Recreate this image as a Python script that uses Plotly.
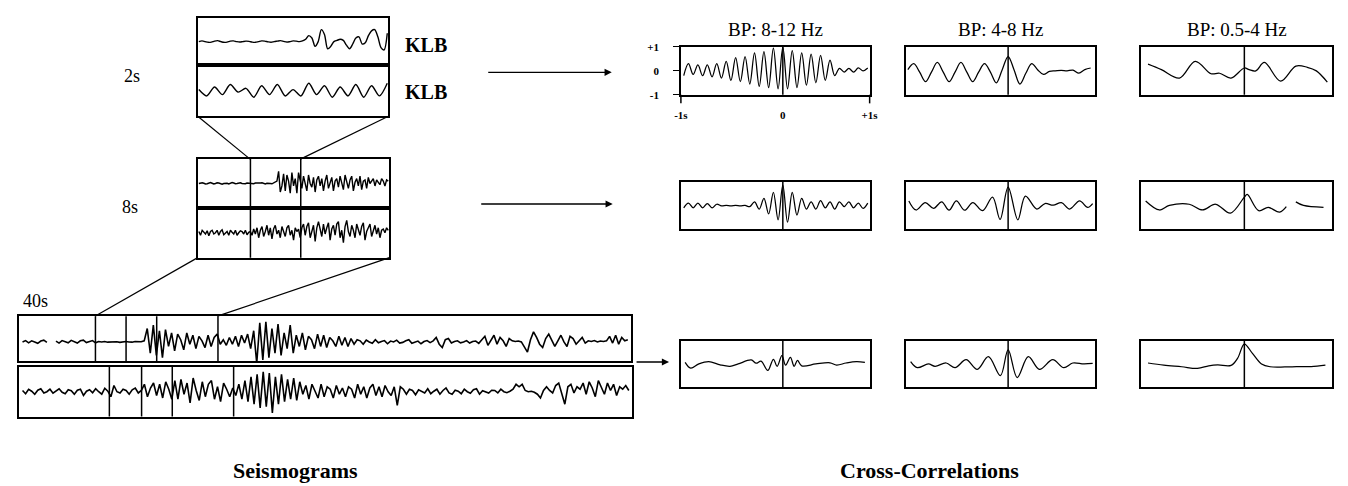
import numpy as np
import plotly.graph_objects as go

W, H = 1348, 486
FONT = "Liberation Serif"

# ---------------- data: seismogram traces (relative amplitude) ----------------
s2_top = [0, 0.03, 0.0, -0.03, -0.02, 0.02, 0.04, 0.0, -0.03, -0.02, 0.02, 0.03, 0.0, -0.02, 0.0, 0.02,
          0.01, -0.02, -0.03, 0.0, 0.03, 0.02, -0.01, -0.03, 0.0, 0.02, 0.04, 0.01, -0.02, 0.0, 0.03, 0.02, 0.0,
          0.03, 0.1, 0.25, 0.15, -0.2, 0.0, 0.5, 0.3, -0.3, -0.2, 0.0, 0.05, 0.1, 0.05, -0.15, -0.3, -0.1,
          0.15, 0.2, -0.1, -0.05, 0.25, 0.45, 0.5, 0.2, -0.25, -0.35, 0.35]
s2_bot = [0.05, -0.2, 0.15, -0.15, 0.25, -0.05, 0.1, -0.25, 0.2, -0.15, 0.25, -0.2, 0.05, -0.2, 0.3,
          -0.15, 0.2, -0.25, 0.15, -0.2, 0.25, -0.25, 0.2, -0.2, 0.3]

s8_top = [0, 0.02, 0.03, 0.01, -0.02, -0.01, 0.02, 0.04, 0.01, -0.02, 0, 0.03, 0.02, -0.01, -0.03, 0, 0.02,
          0.01, -0.02, 0.01, 0.04, 0.02, -0.01, 0, 0.02, 0.03, 0, -0.02, -0.01, 0.02, 0.01, 0, -0.03, -0.01,
          0.02, 0.01, 0, 0.02, 0.03, 0, -0.02, 0.01, 0.02, 0.0, -0.01, 0.02, 0.05, 0.1,
          0.5, -0.35, -0.1, 0.4, -0.3, 0.35, 0.1, -0.4, 0.45, -0.1, 0.2, -0.4, 0.45, 0.1, -0.2, 0.3, 0.05,
          -0.3, 0.35, 0.0, -0.15, 0.25, -0.35, 0.15, 0.3, -0.1, 0.2, -0.3, 0.1, 0.35, -0.2, 0.05, 0.25, -0.3,
          0.1, 0.2, -0.15, 0.3, -0.05, -0.25, 0.35, 0.1, -0.2, 0.15, 0.3, -0.3, 0.05, 0.2, -0.1, 0.3, -0.25,
          0.1, 0.15, -0.2, 0.25, 0.0, 0.1, 0.2, -0.1, 0.15, 0.05, -0.05, 0.2, 0.1, -0.1, 0.15, 0.1]
s8_bot = [0.05, -0.1, 0.1, 0.0, -0.05, 0.08, -0.12, 0.05, 0.1, -0.05, 0.0, 0.1, -0.1, 0.05, 0.12, -0.08, 0.0,
          0.05, -0.1, 0.1, 0.02, -0.05, 0.1, -0.1, 0.0, 0.08, 0.05, -0.05, 0.1, -0.08, 0.02, 0.05,
          -0.1, 0.15, -0.05, 0.2, -0.2, 0.1, 0.25, -0.15, 0.05, 0.3, -0.1, 0.2, -0.25, 0.15, 0.3, -0.05, 0.1,
          -0.2, 0.25, 0.05, -0.15, 0.2, 0.3, -0.1, 0.1, -0.3, 0.2, 0.05, 0.15, -0.2,
          0.2, 0.35, -0.1, 0.25, 0.4, -0.2, 0.1, 0.3, -0.35, 0.2, 0.45, 0.1, -0.15, 0.35, -0.05, 0.2, 0.4, -0.3,
          0.15, 0.3, -0.1, 0.35, 0.45, -0.2, 0.1, -0.4, 0.25, 0.5, 0.05, -0.15, 0.3, 0.1, -0.2, 0.35, 0.15,
          -0.1, 0.25, 0.4, -0.3, 0.05, 0.2, 0.35, -0.15, 0.1, 0.3, -0.05, 0.2, -0.2, 0.1, 0.15, 0.0, 0.2, 0.1]

s40_top = [0.0, 0.06, -0.04, 0.05, 0.0, -0.06, 0.04, 0.08, -0.02, None, None, 0.04, -0.05, 0.06, 0.02, -0.04,
           0.07, 0.0, -0.05, 0.05, 0.08, -0.03, 0.03, 0.06, -0.04, 0.02,
           0.0, 0.02, -0.01, 0.0, 0.03, 0.01, -0.02, 0.0, 0.02, 0.0, -0.01, 0.02, 0.0, 0.01, 0.05,
           0.6, -0.5, 0.75, -0.6, 0.5, -0.7,
           0.55, -0.2, 0.4, -0.4, 0.35, 0.1, -0.35, 0.4, -0.1, 0.3, -0.3, 0.25, 0.05, -0.25, 0.3, -0.2, 0.2,
           0.35, -0.1,
           0.1, -0.15, 0.2, -0.1, 0.25, -0.2, 0.3, -0.05, 0.35, -0.3,
           0.5, -0.95, 0.85, -0.8, 0.9, -0.7, 0.6, -0.5, 0.8, -0.6, 0.4, -0.3, 0.75,
           -0.5, 0.3, -0.2, 0.4, -0.35, 0.25, 0.1, -0.3, 0.35, -0.2, 0.3, -0.25, 0.2, 0.05, -0.2, 0.25, -0.15,
           0.2, -0.2, 0.15, -0.1, 0.1,
           0.05, -0.1, 0.08, 0.0, -0.06, 0.1, -0.04, 0.02, 0.06, -0.08, 0.04, 0.0, 0.08, -0.05, -0.02, 0.05,
           0.1, -0.06, 0.0, 0.04, -0.08, 0.02, 0.06, -0.03, 0.05,
           0.2, -0.1, -0.25, 0.1, 0.15,
           -0.05, 0.02, 0.05, -0.04, 0.0, 0.06, -0.05, 0.02, 0.04, -0.06,
           0.1, 0.25, -0.15, 0.05, 0.3, -0.1, 0.2, 0.05, -0.2, 0.15,
           0.05, 0.02, 0.04, 0.0,
           -0.2, -0.45, 0.1, 0.45, 0.2, -0.1,
           -0.25, 0.15, 0.35, 0.1, -0.2, 0.05, 0.3, 0.0,
           -0.2, 0.25, 0.15, -0.1, 0.05, 0.2, -0.05, 0.05,
           0.02, 0.06, 0.0, 0.04, 0.02, 0.05,
           0.25, -0.05, 0.3, -0.1, 0.2, 0.05, 0.1]
s40_bot = [0.05, -0.08, 0.1, 0.02, -0.1, 0.06, 0.12, -0.05, 0.0, 0.1, -0.06, 0.04, 0.12, -0.02, -0.08, 0.08,
           0.04, -0.1, 0.06, 0.1, -0.15, 0.02, 0.08, -0.04, 0.12, 0.0, -0.1, 0.14, 0.02,
           -0.2, 0.25, 0.0, -0.05, 0.1, 0.05, -0.1, 0.08, 0.15, -0.05, 0.05,
           0.3, -0.2, 0.15, 0.35, -0.15, 0.3, -0.25, 0.4, 0.1, -0.3,
           0.45, -0.3, 0.5, -0.1, 0.35, -0.45, 0.55, 0.05, -0.35, 0.4, -0.2, 0.3, 0.45, -0.3, 0.2, -0.4, 0.35,
           0.1, -0.2, 0.15,
           -0.15, 0.3, -0.3, 0.45, -0.4, 0.6, -0.5, 0.7, -0.65, 0.8, -0.6, 0.75, -0.85, 0.6, -0.5, 0.7, -0.4,
           0.5, -0.3, 0.55,
           -0.35, 0.4, -0.1, 0.25, -0.3, 0.3, 0.05, -0.25, 0.3, -0.2, 0.2, 0.1, -0.25, 0.25, -0.1, 0.15, -0.2, 0.2,
           0.1, -0.25, 0.3, -0.1, 0.2, -0.25, 0.15, 0.3, -0.15, 0.2, -0.2, 0.25, 0.0, -0.15, 0.2, -0.55, 0.2, 0.1,
           -0.1, 0.1, 0.05, -0.12, 0.08, 0.0, -0.05, 0.12, -0.08, 0.02, 0.1, -0.1, 0.05, 0.15, -0.05, -0.1, 0.06,
           0.02, -0.08, 0.1, 0.0, -0.06, 0.08, 0.12, -0.1, 0.04, 0.0, -0.05, 0.06,
           0.05, -0.05, 0.1, 0.0, -0.04, 0.02,
           0.1, 0.3, 0.2, 0.3, 0.05, 0.0, 0.02, -0.02,
           -0.1, -0.25, 0.05, 0.2, 0.05, -0.05,
           0.25, 0.35, -0.1, -0.5, 0.2, 0.3, -0.05, 0.2, 0.1,
           0.35, -0.1, 0.4, 0.15, -0.2, 0.45, 0.2, -0.1, 0.35, 0.05, 0.3, -0.15, 0.2, 0.1, 0.25, 0.05]

# window markers (seconds within each record)
win_8s = [2.2, 4.3]
win_40_top = [5.0, 7.0, 9.0, 13.0]
win_40_bot = [5.9, 8.0, 10.0, 14.0]

# ---------------- data: cross-correlations (lag s, normalised coefficient) ----------------
r1c1_start, r1c1_step = -1.05, 0.05
r1c1 = [-0.2, 0.3, -0.15, 0.25, -0.2, 0.25, -0.25, 0.3, -0.3, 0.4, -0.4, 0.55, -0.45, 0.6, -0.55, 0.75, -0.65,
        0.8, -0.7, 0.95, -0.75, 1.0, -0.75, 0.85, -0.7, 0.75, -0.6, 0.7, -0.5, 0.65, -0.4, 0.45, -0.2, 0.1,
        -0.05, 0.1, -0.05, 0.12, 0.0, 0.12]
r1c2_start, r1c2_step = -1.0625, 0.0625
r1c2 = [0.05, 0.3, -0.05, -0.45, -0.05, 0.35, -0.05, -0.45, -0.05, 0.35, -0.05, -0.45, -0.05, 0.3, -0.05, -0.5,
        0.05, 0.6, 0.05, -0.55, -0.1, 0.3, 0.05, -0.15, -0.02, 0.0, 0.02, 0.0, 0.03, -0.1, 0.05, 0.12]
r1c3_lag = [-1.01, -0.87, -0.68, -0.515, -0.35, -0.26, -0.14, 0.0, 0.05, 0.12, 0.21, 0.38, 0.54, 0.66, 0.755, 0.87]
r1c3 = [0.28, 0.05, -0.3, 0.4, -0.12, -0.1, -0.3, 0.12, 0.05, 0.0, 0.35, -0.43, 0.2, 0.15, 0.0, -0.47]

r2c1_start, r2c1_step = -1.05, 0.05
r2c1 = [-0.1, 0.1, -0.1, 0.1, -0.1, 0.08, -0.1, 0.05, -0.02, 0.0, -0.02, 0.0, -0.02, 0.0, -0.05,
        0.15, -0.15, 0.3, -0.35, 0.55, -0.6, 0.85, -0.7, 0.55, -0.4, 0.3, -0.15, 0.15, -0.15, 0.2, -0.1, 0.15,
        -0.15, 0.15, -0.05, 0.15, -0.1, 0.1, -0.12, 0.1]
r2c2_lag = [-1.052, -0.976, -0.878, -0.79, -0.704, -0.626, -0.548, -0.461, -0.374, -0.27, -0.165, -0.085, 0.0,
            0.103, 0.183, 0.304, 0.391, 0.478, 0.565, 0.652, 0.757, 0.843, 0.896]
r2c2 = [0.19, -0.19, 0.12, -0.12, 0.15, -0.2, 0.19, -0.2, 0.12, -0.22, 0.35, -0.58, 0.77, -0.6, 0.39, -0.15,
        0.08, 0.01, 0.12, -0.15, 0.19, -0.08, 0.08]
r2c3_lag = [-1.035, -0.89, -0.786, -0.578, -0.44, -0.301, -0.146, 0.0, 0.03, 0.15, 0.25, 0.37, 0.44, None,
            0.54, 0.62, 0.83]
r2c3 = [0.19, -0.19, 0.0, 0.05, -0.19, 0.05, -0.32, 0.35, 0.46, -0.22, -0.08, -0.28, -0.05, None, 0.15, 0.0, -0.08]

r3c1_lag = [-1.035, -0.976, -0.89, -0.785, -0.664, -0.56, -0.473, -0.335, -0.283, -0.23, -0.16, -0.1, -0.06,
            -0.01, 0.03, 0.08, 0.12, 0.155, 0.2, 0.35, 0.5, 0.57, 0.67, 0.78, 0.87]
r3c1 = [0.07, -0.18, 0.0, 0.1, -0.04, -0.1, 0.0, 0.17, 0.03, 0.12, -0.28, 0.2, -0.1, 0.35, -0.05, 0.28, -0.1,
        0.15, -0.08, 0.0, 0.05, -0.05, 0.04, 0.1, 0.07]
r3c2_lag = [-1.033, -0.962, -0.845, -0.774, -0.656, -0.562, -0.445, -0.327, -0.209, -0.082, 0.0, 0.096, 0.214,
            0.332, 0.473, 0.59, 0.685, 0.802, 0.896]
r3c2 = [0.1, -0.16, 0.0, -0.1, 0.04, -0.16, 0.18, -0.23, 0.31, -0.5, 0.6, -0.58, 0.31, -0.23, 0.18, -0.16, 0.04,
        0.0, 0.02]
r3c3_lag = [-1.01, -0.845, -0.657, -0.492, -0.374, -0.28, -0.139, -0.07, 0.0, 0.085, 0.18, 0.27, 0.5, 0.7, 0.85]
r3c3 = [0.04, -0.05, -0.12, -0.19, -0.08, -0.04, -0.06, 0.25, 0.85, 0.45, 0.0, -0.12, -0.12, -0.11, -0.05]

band_titles = ["BP: 8-12 Hz", "BP: 4-8 Hz", "BP: 0.5-4 Hz"]
cc_ticks_y = [1, 0, -1]
cc_ticktext_y = ["+1", "0", "-1"]
cc_ticktext_x = ["-1s", "0", "+1s"]
LAG_MIN, LAG_MAX = -1.08, 0.92

# ---------------- layout helpers ----------------
def fx(p):
    return p / W


def fy(p):
    return 1 - p / H


fig = go.Figure()
layout = dict(width=W, height=H, margin=dict(l=0, r=0, t=0, b=0), autosize=False,
              paper_bgcolor="white", plot_bgcolor="white", showlegend=False)
shapes, annotations = [], []

# panel boxes in pixels: (x0, x1, ytop, ybottom)
seis_boxes = [(193, 386, 12, 61), (193, 386, 61, 113), (193, 387, 157, 207), (193, 387, 207, 258),
              (12, 632, 318, 364), (12, 633, 370, 421)]
seis_len = [2, 2, 8, 8, 40, 40]
seis_data = [s2_top, s2_bot, s8_top, s8_bot, s40_top, s40_bot]
seis_shape = ["spline", "spline", "linear", "linear", "linear", "linear"]
seis_width = [1.4, 1.4, 1.4, 1.4, 1.6, 1.6]
seis_yrange = [[-1, 1], [-1, 1], [-1, 1], [-1, 1], [-0.85, 1.15], [-1, 1]]

cc_cols = [(682, 873), (910, 1101), (1148, 1341)]
cc_rows = [(42, 91), (180, 229), (343, 391)]
cc_data = [
    [(r1c1_start + r1c1_step * np.arange(len(r1c1)), r1c1, "spline"),
     (r1c2_start + r1c2_step * np.arange(len(r1c2)), r1c2, "spline"),
     (r1c3_lag, r1c3, "spline")],
    [(r2c1_start + r2c1_step * np.arange(len(r2c1)), r2c1, "spline"),
     (r2c2_lag, r2c2, "spline"),
     (r2c3_lag, r2c3, "spline")],
    [(r3c1_lag, r3c1, "spline"),
     (r3c2_lag, r3c2, "spline"),
     (r3c3_lag, r3c3, "spline")],
]

axis_base = dict(showline=True, mirror=True, linecolor="black", linewidth=1.5, showgrid=False,
                 zeroline=False, showticklabels=False, ticks="", fixedrange=True)

idx = 0


def add_axes(box, xr, yr):
    global idx
    idx += 1
    sx = "" if idx == 1 else str(idx)
    x0, x1, yt, yb = box
    layout["xaxis" + sx] = dict(axis_base, domain=[fx(x0), fx(x1)], range=xr, anchor="y" + sx)
    layout["yaxis" + sx] = dict(axis_base, domain=[fy(yb), fy(yt)], range=yr, anchor="x" + sx)
    return sx


seis_ax = []
for box, L, dat, shp, lw, yr in zip(seis_boxes, seis_len, seis_data, seis_shape, seis_width, seis_yrange):
    sx = add_axes(box, [0, L], yr)
    seis_ax.append(sx)
    t = np.linspace(L * 0.006, L * 0.994, len(dat))
    fig.add_trace(go.Scatter(x=t, y=dat, mode="lines", xaxis="x" + sx, yaxis="y" + sx,
                             line=dict(color="black", width=lw, shape=shp, smoothing=0.8),
                             connectgaps=False, hoverinfo="skip"))

cc_ax = []
for r, (yt, yb) in enumerate(cc_rows):
    for c, (x0, x1) in enumerate(cc_cols):
        sx = add_axes((x0, x1, yt, yb), [LAG_MIN, LAG_MAX], [-1, 1])
        cc_ax.append(sx)
        lag, val, shp = cc_data[r][c]
        fig.add_trace(go.Scatter(x=list(lag), y=val, mode="lines", xaxis="x" + sx, yaxis="y" + sx,
                                 line=dict(color="black", width=1.25, shape=shp, smoothing=1.0),
                                 connectgaps=False, hoverinfo="skip"))
        # zero-lag line
        shapes.append(dict(type="line", xref="x" + sx, yref="y" + sx + " domain", x0=0, x1=0, y0=0, y1=1,
                           line=dict(color="black", width=1.5)))
        if r == 0:
            annotations.append(dict(text=band_titles[c], xref="x" + sx + " domain", yref="paper",
                                    x=0.5, y=fy(24), showarrow=False, xanchor="center", yanchor="middle",
                                    font=dict(family=FONT, size=19, color="black")))

# scale annotation of first correlation panel
first = cc_ax[0]
layout["yaxis" + first].update(showticklabels=True, tickvals=cc_ticks_y, ticktext=cc_ticktext_y,
                               ticks="outside", ticklen=6, tickwidth=1.2, tickcolor="black",
                               ticklabelstandoff=12,
                               tickfont=dict(family=FONT, size=11, color="black", weight="bold"))
layout["xaxis" + first].update(showticklabels=True, tickvals=[LAG_MIN, 0, LAG_MAX], ticktext=cc_ticktext_x,
                               ticklabelstandoff=9,
                               tickfont=dict(family=FONT, size=11, color="black", weight="bold"))
for xd in (0, 1):
    shapes.append(dict(type="line", xref="x" + first + " domain", yref="y" + first + " domain",
                       x0=xd, x1=xd, y0=0, y1=-0.18, line=dict(color="black", width=1.5)))

# thick separators between paired traces
for a in (seis_ax[0], seis_ax[2]):
    shapes.append(dict(type="line", xref="x" + a + " domain", yref="y" + a + " domain", x0=0, x1=1, y0=0, y1=0,
                       line=dict(color="black", width=3)))

# window markers
for w in win_8s:
    shapes.append(dict(type="line", xref="x" + seis_ax[2], yref="paper", x0=w, x1=w, y0=fy(258), y1=fy(157),
                       line=dict(color="black", width=1.5)))
for w in win_40_top:
    shapes.append(dict(type="line", xref="x" + seis_ax[4], yref="y" + seis_ax[4] + " domain", x0=w, x1=w,
                       y0=0, y1=1, line=dict(color="black", width=1.5)))
for w in win_40_bot:
    shapes.append(dict(type="line", xref="x" + seis_ax[5], yref="y" + seis_ax[5] + " domain", x0=w, x1=w,
                       y0=0, y1=1, line=dict(color="black", width=1.5)))

# zoom connectors
for (xa, ya, xb, yb) in [(193, 113, 246, 157), (386, 113, 297, 157), (193, 258, 89, 318), (387, 258, 213, 318)]:
    shapes.append(dict(type="line", xref="paper", yref="paper", x0=fx(xa), y0=fy(ya), x1=fx(xb), y1=fy(yb),
                       line=dict(color="black", width=1.2)))

# arrows
for (xh, yh, length) in [(612, 68, 125), (613, 203, 133), (670, 365, 34)]:
    annotations.append(dict(x=fx(xh), y=fy(yh), xref="paper", yref="paper", text="", showarrow=True,
                            ax=-length, ay=0, axref="pixel", ayref="pixel", arrowhead=2, arrowsize=1.1,
                            arrowwidth=1.3, arrowcolor="black"))


# texts
def txt(s, x, y, size, bold=False, xanchor="center"):
    font = dict(family=FONT, size=size, color="black")
    if bold:
        font["weight"] = "bold"
    annotations.append(dict(text=s, x=fx(x), y=fy(y), xref="paper", yref="paper", showarrow=False,
                            xanchor=xanchor, yanchor="middle", font=font))


txt("2s", 127, 72, 18)
txt("8s", 124, 206, 18)
txt("40s", 29, 302, 18)
txt("KLB", 401, 40, 20, bold=True, xanchor="left")
txt("KLB", 401, 88, 20, bold=True, xanchor="left")
txt("Seismograms", 292, 476, 22, bold=True)
txt("Cross-Correlations", 934, 476, 22, bold=True)

layout["shapes"] = shapes
layout["annotations"] = annotations
fig.update_layout(**layout)
fig.write_html("out.html",
               post_script="document.body.style.margin='0';document.body.style.padding='0';"
                           "document.documentElement.style.overflow='hidden';")
